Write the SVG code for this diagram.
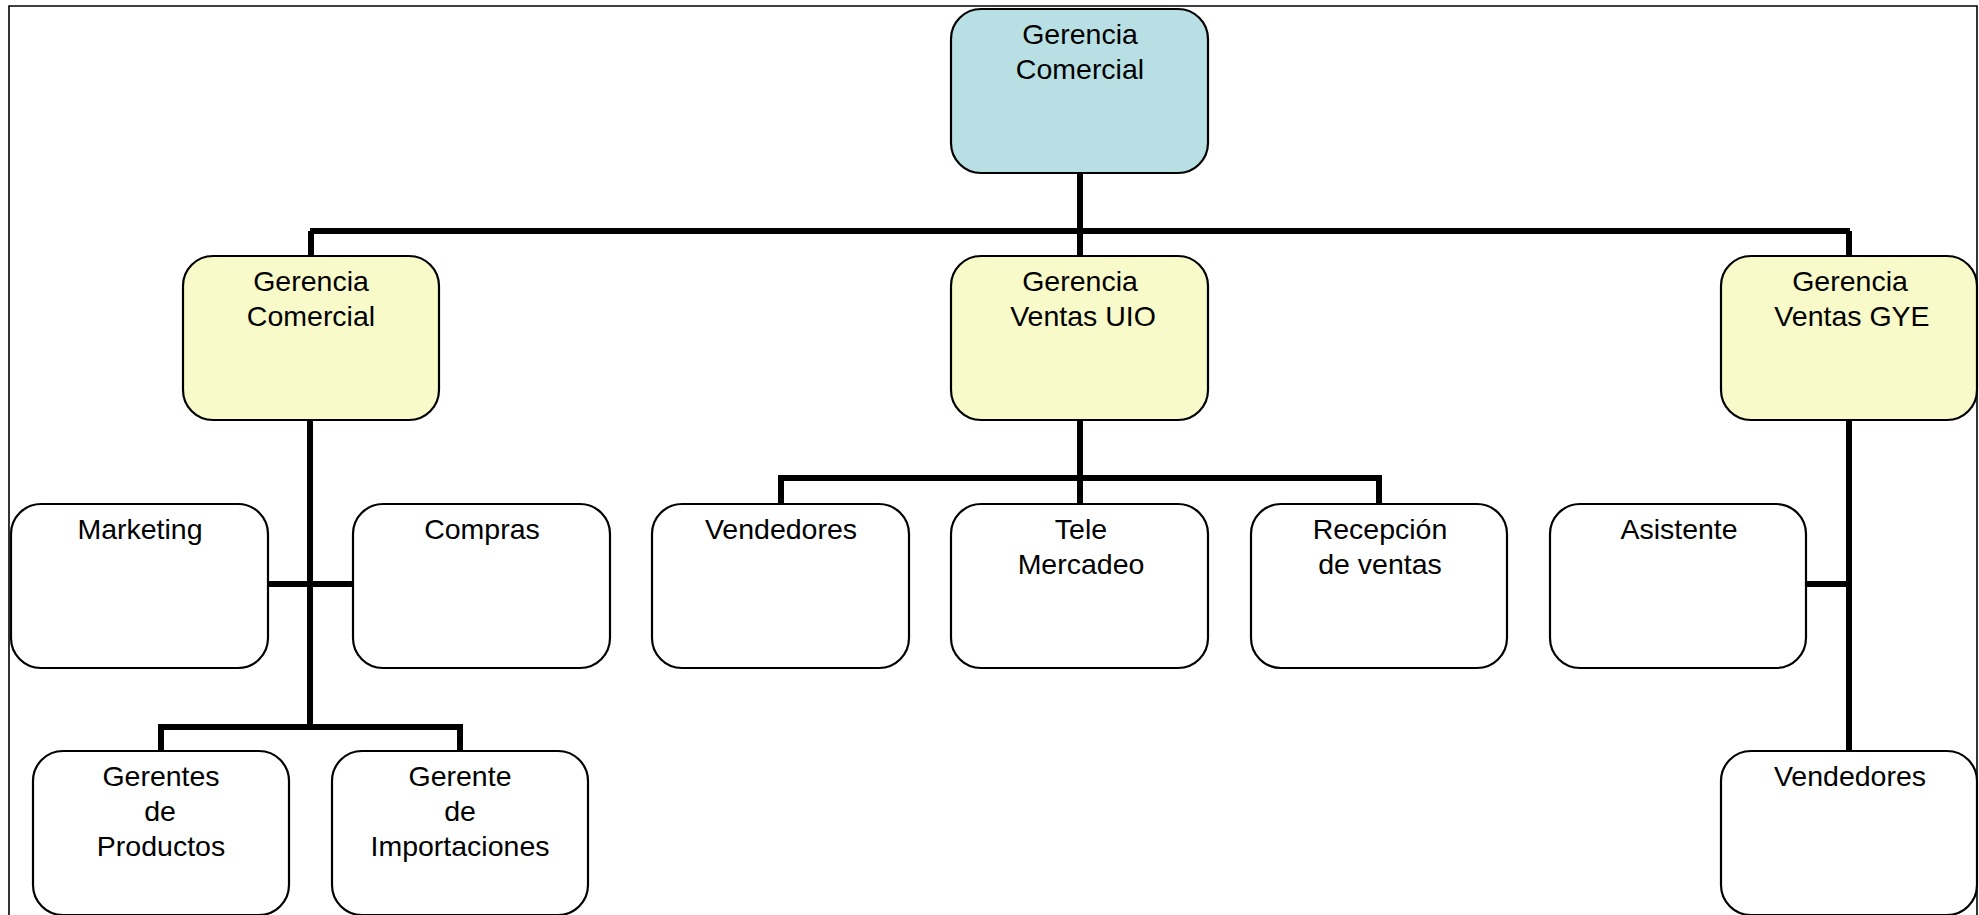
<svg xmlns="http://www.w3.org/2000/svg" width="1979" height="915" viewBox="0 0 1979 915">
<style>
.b{stroke:#000;stroke-width:2.2}
.w{fill:#fff}
.y{fill:#F8FBC9}
.c{fill:#B8E0E4}
.t{font-family:"Liberation Sans",Arial,sans-serif;font-size:28.5px;fill:#000;text-anchor:middle}
.k{fill:none;stroke:#000;stroke-width:6}
</style>
<rect x="0" y="0" width="1979" height="915" fill="#fff"/>
<path d="M9,920 V6 H1977 V920" fill="none" stroke="#000" stroke-width="1.6"/>
<g id="connectors" class="k">
<path d="M1080,173 V256"/>
<path d="M310,231 H1850"/>
<path d="M311,231 V256"/>
<path d="M1849,231 V256"/>
<path d="M310,420 V727"/>
<path d="M268,584 H353"/>
<path d="M161,751 V727 H460 V751"/>
<path d="M1080,420 V504"/>
<path d="M781,504 V478 H1379 V504"/>
<path d="M1849,420 V751"/>
<path d="M1806,584 H1849"/>
</g>
<g id="n-top"><rect class="b c" x="951" y="9" width="257" height="164" rx="30"/><text class="t" x="1080" y="44">Gerencia</text><text class="t" x="1080" y="79">Comercial</text></g>
<g id="n-gc"><rect class="b y" x="183" y="256" width="256" height="164" rx="30"/><text class="t" x="311" y="291">Gerencia</text><text class="t" x="311" y="326">Comercial</text></g>
<g id="n-uio"><rect class="b y" x="951" y="256" width="257" height="164" rx="30"/><text class="t" x="1080" y="291">Gerencia</text><text class="t" x="1083" y="326">Ventas UIO</text></g>
<g id="n-gye"><rect class="b y" x="1721" y="256" width="256" height="164" rx="30"/><text class="t" x="1850" y="291">Gerencia</text><text class="t" x="1852" y="326">Ventas GYE</text></g>
<g id="n-mkt"><rect class="b w" x="11" y="504" width="257" height="164" rx="30"/><text class="t" x="140" y="539">Marketing</text></g>
<g id="n-comp"><rect class="b w" x="353" y="504" width="257" height="164" rx="30"/><text class="t" x="482" y="539">Compras</text></g>
<g id="n-vend1"><rect class="b w" x="652" y="504" width="257" height="164" rx="30"/><text class="t" x="781" y="539">Vendedores</text></g>
<g id="n-tele"><rect class="b w" x="951" y="504" width="257" height="164" rx="30"/><text class="t" x="1081" y="539">Tele</text><text class="t" x="1081" y="574">Mercadeo</text></g>
<g id="n-rec"><rect class="b w" x="1251" y="504" width="256" height="164" rx="30"/><text class="t" x="1380" y="539">Recepción</text><text class="t" x="1380" y="574">de ventas</text></g>
<g id="n-asis"><rect class="b w" x="1550" y="504" width="256" height="164" rx="30"/><text class="t" x="1679" y="539">Asistente</text></g>
<g id="n-gprod"><rect class="b w" x="33" y="751" width="256" height="164" rx="30"/><text class="t" x="161" y="786">Gerentes</text><text class="t" x="160" y="821">de</text><text class="t" x="161" y="856">Productos</text></g>
<g id="n-gimp"><rect class="b w" x="332" y="751" width="256" height="164" rx="30"/><text class="t" x="460" y="786">Gerente</text><text class="t" x="460" y="821">de</text><text class="t" x="460" y="856">Importaciones</text></g>
<g id="n-vend2"><rect class="b w" x="1721" y="751" width="256" height="164" rx="30"/><text class="t" x="1850" y="786">Vendedores</text></g>
</svg>
